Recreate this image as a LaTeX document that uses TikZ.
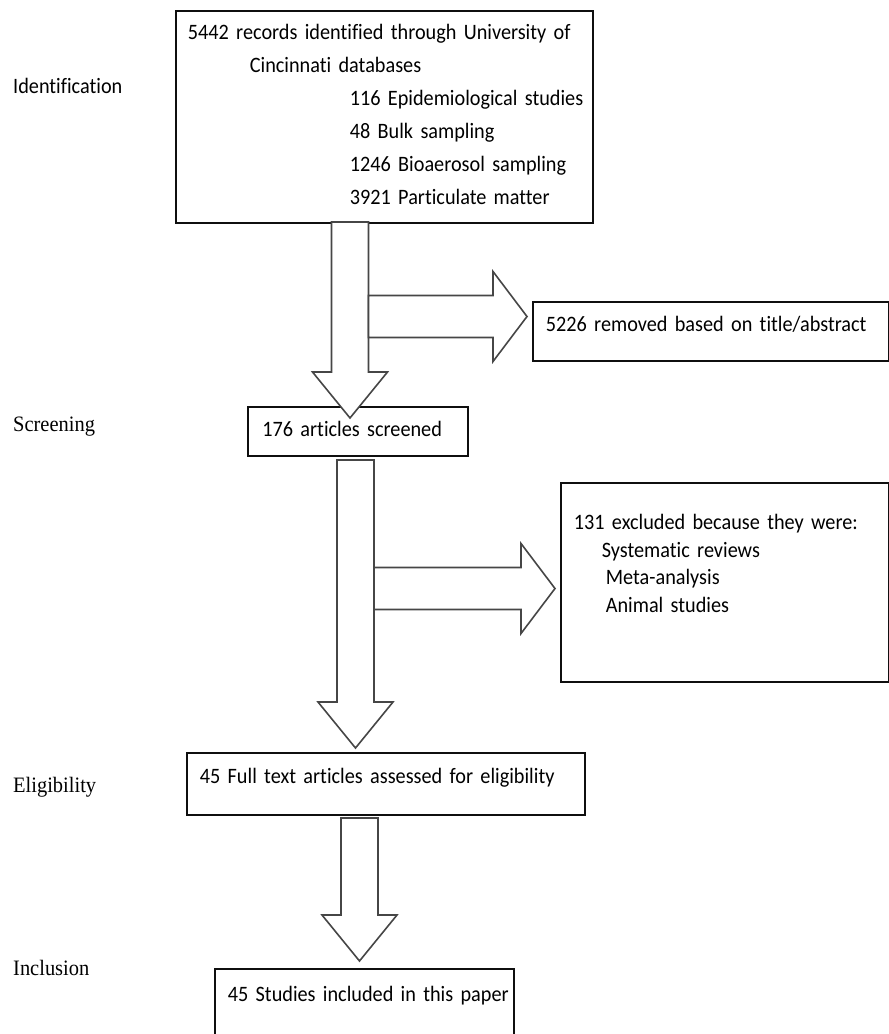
\documentclass[tikz,border=0pt]{standalone}
\usepackage{fontspec}
\usepackage{tikz}
\usetikzlibrary{positioning, calc}
\newfontfamily\boxfont{Carlito}[FakeStretch=0.92, WordSpace=0.5, Ligatures=NoCommon]
\newfontfamily\stagefont{Liberation Serif}[FakeStretch=0.93]
\definecolor{cEdge}{RGB}{70,70,70}
\definecolor{cFrame}{RGB}{15,15,15}
\tikzset{
  basebox/.style={rectangle, draw=cFrame, line width=1.7pt, fill=white,
                  anchor=north west, align=left, inner ysep=0pt,
                  inner xsep=13pt, font=\boxfont\fontsize{22}{33}\selectfont},
  stagelabel/.style={anchor=base west, inner sep=0pt,
                     font=\stagefont\fontsize{22}{26}\selectfont},
  blockarrow/.style={draw=cEdge, line width=1.6pt, fill=white, line join=miter}
}
% block arrow pointing down: start of shaft, tip
\newcommand{\blockdown}[2]{%
  \draw[blockarrow] let \p1=#1, \p2=#2 in
    (\x1-18.5pt,\y1) -- (\x1-18.5pt,\y2+46pt) -- (\x1-37.5pt,\y2+46pt)
    -- (\x1,\y2) -- (\x1+37.5pt,\y2+46pt) -- (\x1+18.5pt,\y2+46pt)
    -- (\x1+18.5pt,\y1) -- cycle;}
% block arrow pointing right: start on the shaft, tip
\newcommand{\blockright}[2]{%
  \draw[blockarrow] let \p1=#1, \p2=#2 in
    (\x1,\y1+21pt) -- (\x2-34pt,\y1+21pt) -- (\x2-34pt,\y1+45pt)
    -- (\x2,\y1) -- (\x2-34pt,\y1-45pt) -- (\x2-34pt,\y1-21pt)
    -- (\x1,\y1-21pt) -- cycle;}

\begin{document}
\begin{tikzpicture}[x=1pt, y=-1pt]
  \useasboundingbox (0,0) rectangle (889,1034);

  % ── Stage labels ──
  \node[anchor=base west, inner sep=0pt,
        font=\boxfont\fontsize{22}{26}\selectfont] (labIdent) at (13,93) {Identification};
  \node[stagelabel] (labScreen) at (13,431) {Screening};
  \node[stagelabel] (labElig) at (13,792) {Eligibility};
  \node[stagelabel] (labIncl) at (13,975) {Inclusion};

  % ── Boxes ──
  \node[basebox, inner xsep=12pt, text width=393pt, text height=29pt, text depth=183pt]
      (records) at (175,10)
      {\mbox{5442 records identified through University of}\\
       \hspace*{62pt}\mbox{Cincinnati databases}\\
       \hspace*{162pt}\mbox{116 Epidemiological studies}\\
       \hspace*{162pt}\mbox{48 Bulk sampling}\\
       \hspace*{162pt}\mbox{1246 Bioaerosol sampling}\\
       \hspace*{162pt}\mbox{3921 Particulate matter}};

  \node[basebox, text width=330pt, text height=30pt, text depth=29pt]
      (removed) at (532,301) {\mbox{5226 removed based on title/abstract}};

  \node[basebox, inner xsep=14.5pt, text width=191pt, text height=30pt, text depth=19pt]
      (screened) at (247,406) {\mbox{176 articles screened}};

  \node[basebox, text width=302pt, text height=47pt, text depth=152pt,
        font=\boxfont\fontsize{22}{27.5}\selectfont]
      (excluded) at (560,482)
      {\mbox{131 excluded because they were:}\\
       \hspace*{28pt}\mbox{Systematic reviews}\\
       \hspace*{32pt}\mbox{Meta-analysis}\\
       \hspace*{32pt}\mbox{Animal studies}};

  \node[basebox, text width=372pt, text height=31pt, text depth=31pt]
      (fulltext) at (186,752) {\mbox{45 Full text articles assessed for eligibility}};

  \node[basebox, text width=273pt, text height=33pt, text depth=60pt]
      (included) at (214,968) {\mbox{45 Studies included in this paper}};

  % ── Block arrows ──
  \coordinate (d1) at (350,222);
  \coordinate (d2) at (355.5,460);
  \coordinate (d3) at (359.5,818);
  \coordinate (s1) at (368.5,316.5);
  \coordinate (s2) at (374,588.5);

  \blockdown{(d1)}{([yshift=-12pt]screened.north -| d1)}
  \blockright{(s1)}{([xshift=-5pt]removed.west |- s1)}
  \blockdown{(d2)}{([yshift=4pt]fulltext.north -| d2)}
  \blockright{(s2)}{([xshift=-5pt]excluded.west |- s2)}
  \blockdown{(d3)}{([yshift=7pt]included.north -| d3)}

\end{tikzpicture}
\end{document}
